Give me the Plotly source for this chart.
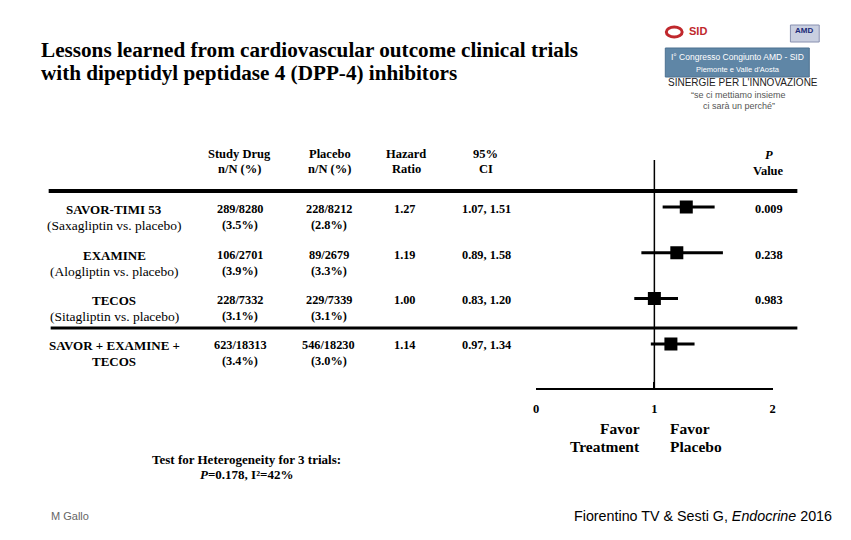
import plotly.graph_objects as go

W, H = 851, 540

# ---------------- data ----------------
trials = ["SAVOR-TIMI 53", "EXAMINE", "TECOS", "SAVOR + EXAMINE +"]
subtitles = ["(Saxagliptin vs. placebo)", "(Alogliptin vs. placebo)", "(Sitagliptin vs. placebo)", "TECOS"]
drug_n = ["289/8280", "106/2701", "228/7332", "623/18313"]
drug_pct = ["(3.5%)", "(3.9%)", "(3.1%)", "(3.4%)"]
placebo_n = ["228/8212", "89/2679", "229/7339", "546/18230"]
placebo_pct = ["(2.8%)", "(3.3%)", "(3.1%)", "(3.0%)"]
hazard_ratio = [1.27, 1.19, 1.00, 1.14]
ci_low = [1.07, 0.89, 0.83, 0.97]
ci_high = [1.51, 1.58, 1.20, 1.34]
p_values = ["0.009", "0.238", "0.983", ""]
row_index = [0, 1, 2, 3]
x_ticks = [0, 1, 2]

SERIF = "Liberation Serif, Times New Roman, serif"
SANS = "Liberation Sans, Arial, sans-serif"


def px(x, y):
    return x / W, 1 - y / H


annotations = []


def txt(x, y, text, size=12, bold=True, color="black", xanchor="center", family=SERIF, yanchor="middle"):
    ax, ay = px(x, y)
    t = f"<b>{text}</b>" if bold else text
    annotations.append(dict(x=ax, y=ay, xref="paper", yref="paper", text=t, showarrow=False,
                            xanchor=xanchor, yanchor=yanchor, borderpad=0,
                            font=dict(family=family, size=size, color=color)))


# title
txt(37, 50, "Lessons learned from cardiovascular outcome clinical trials", size=21.2, xanchor="left")
txt(37, 73, "with dipeptidyl peptidase 4 (DPP-4) inhibitors", size=21.2, xanchor="left")

# column headers
txt(238, 154, "Study Drug", size=12.5)
txt(238, 169, "n/N (%)", size=12.5)
txt(329, 154, "Placebo", size=12.5)
txt(329, 169, "n/N (%)", size=12.5)
txt(406, 154, "Hazard", size=12.5)
txt(406, 169, "Ratio", size=12.5)
txt(486, 154, "95%", size=12.5)
txt(486, 169, "CI", size=12.5)
txt(771, 155, "<i>P</i>", size=12.5)
txt(771, 171, "Value", size=12.5)

# rows
row_px = [209, 255, 300, 345]
for i in row_index:
    y1 = row_px[i]
    y2 = y1 + 16
    txt(112, y1, trials[i], size=13)
    if i == 3:
        txt(112, y2, subtitles[i], size=13)
    else:
        txt(112, y2, subtitles[i], size=13.5, bold=False)
    txt(239, y1, drug_n[i], size=12.3)
    txt(239, y2, drug_pct[i], size=12.3)
    txt(328, y1, placebo_n[i], size=12.3)
    txt(328, y2, placebo_pct[i], size=12.3)
    txt(405, y1, f"{hazard_ratio[i]:.2f}", size=12.3)
    txt(487, y1, f"{ci_low[i]:.2f}, {ci_high[i]:.2f}", size=12.3)
    if p_values[i]:
        txt(771, y1, p_values[i], size=12.3)

# favor labels
txt(643, 428, "Favor", size=15.5, xanchor="right")
txt(643, 447, "Treatment", size=15.5, xanchor="right")
txt(671, 428, "Favor", size=15.5, xanchor="left")
txt(671, 447, "Placebo", size=15.5, xanchor="left")

# heterogeneity
txt(245, 459, "Test for Heterogeneity for 3 trials:", size=13)
txt(245, 474, "<i>P</i>=0.178, I²=42%", size=13)

# footer
txt(47, 516, "M Gallo", size=11, bold=False, color="#666666", xanchor="left", family=SANS)
txt(836, 516, "Fiorentino TV &amp; Sesti G, <i>Endocrine</i> 2016", size=14.3, bold=False,
    xanchor="right", family=SANS)

# logo texts
txt(700, 31, "SID", size=11, color="#c0282d", xanchor="center", family=SANS)
txt(740, 57, "I° Congresso Congiunto AMD - SID", size=8.5, bold=False, color="white", family=SANS)
txt(740, 69, "Piemonte e Valle d'Aosta", size=7.5, bold=False, color="white", family=SANS)
txt(745, 82, "SINERGIE PER L'INNOVAZIONE", size=10, bold=False, color="#222222", family=SANS)
txt(741, 95, "\u201cse ci mettiamo insieme", size=9, bold=False, color="#555555", family=SANS)
txt(741, 106, "ci sarà un perché\u201d", size=9, bold=False, color="#555555", family=SANS)

shapes = []
# separators
x0, _ = px(46, 0)
x1, _ = px(800, 0)
_, ys1 = px(0, 191)
_, ys2 = px(0, 328)
shapes.append(dict(type="line", xref="paper", yref="paper", x0=x0, x1=x1, y0=ys1, y1=ys1,
                   line=dict(color="black", width=4)))
shapes.append(dict(type="line", xref="paper", yref="paper", x0=px(48, 0)[0], x1=x1, y0=ys2, y1=ys2,
                   line=dict(color="black", width=3)))
# reference line at HR = 1
shapes.append(dict(type="line", xref="x", yref="paper", x0=1, x1=1, y0=px(0, 389)[1], y1=px(0, 160)[1],
                   line=dict(color="black", width=1.5)))
# logo shapes
bx0, by0 = px(667, 48)
bx1, by1 = px(812, 77)
shapes.append(dict(type="rect", xref="paper", yref="paper", x0=bx0, x1=bx1, y0=by1, y1=by0,
                   fillcolor="#5f86a6", line=dict(color="#4d7190", width=1)))
shapes.append(dict(type="circle", xref="paper", yref="paper", x0=px(668, 0)[0], x1=px(684, 0)[0],
                   y0=px(0, 37)[1], y1=px(0, 27)[1], fillcolor="rgba(0,0,0,0)",
                   line=dict(color="#c0282d", width=3)))
shapes.append(dict(type="rect", xref="paper", yref="paper", x0=px(793, 0)[0], x1=px(822, 0)[0],
                   y0=px(0, 42)[1], y1=px(0, 25)[1], fillcolor="#c9cfe0",
                   line=dict(color="#8890b0", width=1)))
txt(807, 31, "AMD", size=8, color="#1b2a78", family=SANS)

fig = go.Figure()
fig.add_trace(go.Scatter(
    x=hazard_ratio, y=row_index, mode="markers",
    marker=dict(symbol="square", size=13, color="black"),
    error_x=dict(type="data", symmetric=False,
                 array=[h - l for h, l in zip(ci_high, hazard_ratio)],
                 arrayminus=[h - l for h, l in zip(hazard_ratio, ci_low)],
                 color="black", thickness=3, width=0),
    showlegend=False, hoverinfo="skip"))

# y range so rows map to the table rows
top = -207 / 45.7
bottom = (H - 207) / 45.7

fig.update_layout(
    width=W, height=H, margin=dict(l=0, r=0, t=0, b=0),
    paper_bgcolor="white", plot_bgcolor="rgba(0,0,0,0)",
    xaxis=dict(domain=[537 / W, 775 / W], range=[0, 2], anchor="free", position=1 - 389 / H,
               showline=True, linecolor="black", linewidth=1.5, showgrid=False, zeroline=False,
               tickvals=x_ticks, ticktext=[f"<b>{v}</b>" for v in x_ticks], ticks="inside",
               ticklen=6, tickwidth=1.5, tickcolor="black", ticklabelstandoff=8,
               tickfont=dict(family=SERIF, size=12.5, color="black")),
    yaxis=dict(domain=[0, 1], range=[bottom, top], visible=False, showgrid=False, zeroline=False),
    shapes=shapes, annotations=annotations,
)

fig.write_html("out.html", config={"displayModeBar": False},
               post_script="document.body.style.margin='0px';")
